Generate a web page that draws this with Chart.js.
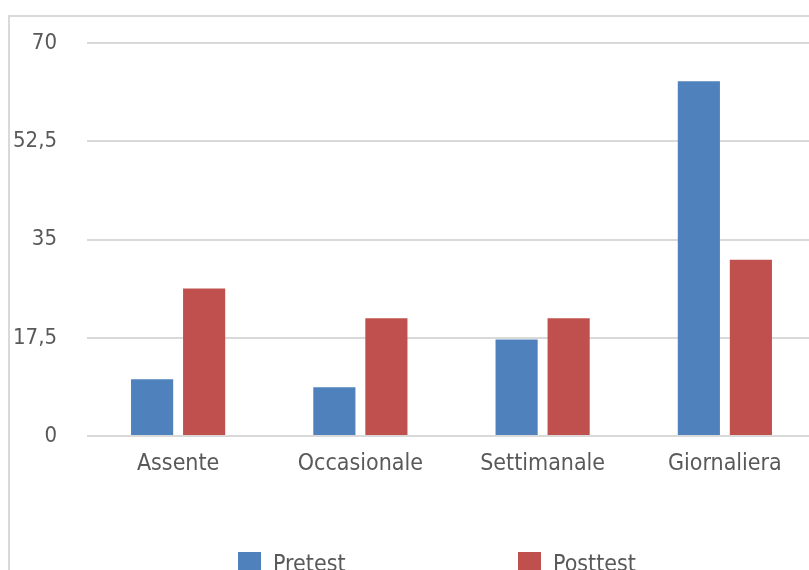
<!DOCTYPE html>
<html>
<head>
<meta charset="utf-8">
<script src="https://cdn.jsdelivr.net/npm/chart.js@4"></script>
<style>
    html, body { margin: 0; padding: 0; overflow: hidden; background: #fff; }
    #frame {
        position: absolute; left: 8px; top: 15px; width: 900px; height: 700px;
        border-left: 2px solid #d9d9d9; border-top: 2px solid #d9d9d9;
    }
    #wrap { position: absolute; left: 0; top: 0; width: 820px; height: 570px; }
</style>
</head>
<body>
<div id="frame"></div>
<div id="wrap"><canvas id="chart" width="820" height="570"></canvas></div>
<script>
var categories = ['Assente', 'Occasionale', 'Settimanale', 'Giornaliera'];
var seriesNames = ['Pretest', 'Posttest'];
var pretest = [10.1, 8.7, 17.2, 63.2];
var posttest = [26.3, 21.0, 21.0, 31.4];
var yTicks = [0, 17.5, 35, 52.5, 70];
var yTickLabels = ['0', '17,5', '35', '52,5', '70'];

var fontFamily = '"DejaVu Sans Condensed", "Open Sans", sans-serif';
var textColor = '#595959';

// legenda disegnata a mano in basso, come nell'originale
var bottomLegend = {
    id: 'bottomLegend',
    afterDraw: function (chart) {
        var ctx = chart.ctx;
        var xs = [238, 518];
        ctx.save();
        ctx.font = '23px ' + fontFamily;
        ctx.textBaseline = 'middle';
        ctx.textAlign = 'left';
        chart.data.datasets.forEach(function (ds, i) {
            ctx.fillStyle = ds.backgroundColor;
            ctx.fillRect(xs[i], 552, 23, 23);
            ctx.fillStyle = textColor;
            ctx.fillText(ds.label, xs[i] + 35, 565);
        });
        ctx.restore();
    }
};

var ctx = document.getElementById('chart').getContext('2d');
var chart = new Chart(ctx, {
    type: 'bar',
    data: {
        labels: categories,
        datasets: [{
            label: seriesNames[0],
            data: pretest,
            backgroundColor: '#4f81bd'
        }, {
            label: seriesNames[1],
            data: posttest,
            backgroundColor: '#c0504d'
        }]
    },
    options: {
        responsive: false,
        animation: false,
        devicePixelRatio: 1,
        layout: { padding: { left: 10, right: 4, top: 40, bottom: 95 } },
        categoryPercentage: 0.571,
        barPercentage: 0.81,
        plugins: {
            legend: { display: false },
            tooltip: { enabled: false }
        },
        scales: {
            x: {
                grid: { display: false, drawTicks: false },
                border: { display: false },
                ticks: {
                    color: textColor,
                    padding: 14,
                    font: { family: fontFamily, size: 23 }
                },
                afterFit: function (scale) { scale.height = 39; }
            },
            y: {
                min: 0,
                max: 70,
                afterBuildTicks: function (scale) {
                    scale.ticks = yTicks.map(function (v) { return { value: v }; });
                },
                grid: { color: '#d9d9d9', lineWidth: 2, drawTicks: false },
                border: { display: false },
                ticks: {
                    color: textColor,
                    padding: 30,
                    font: { family: fontFamily, size: 22 },
                    callback: function (value) {
                        var i = yTicks.indexOf(value);
                        return i >= 0 ? yTickLabels[i] : '';
                    }
                },
                afterFit: function (scale) { scale.width = 77; }
            }
        }
    },
    plugins: [bottomLegend]
});
</script>
</body>
</html>
